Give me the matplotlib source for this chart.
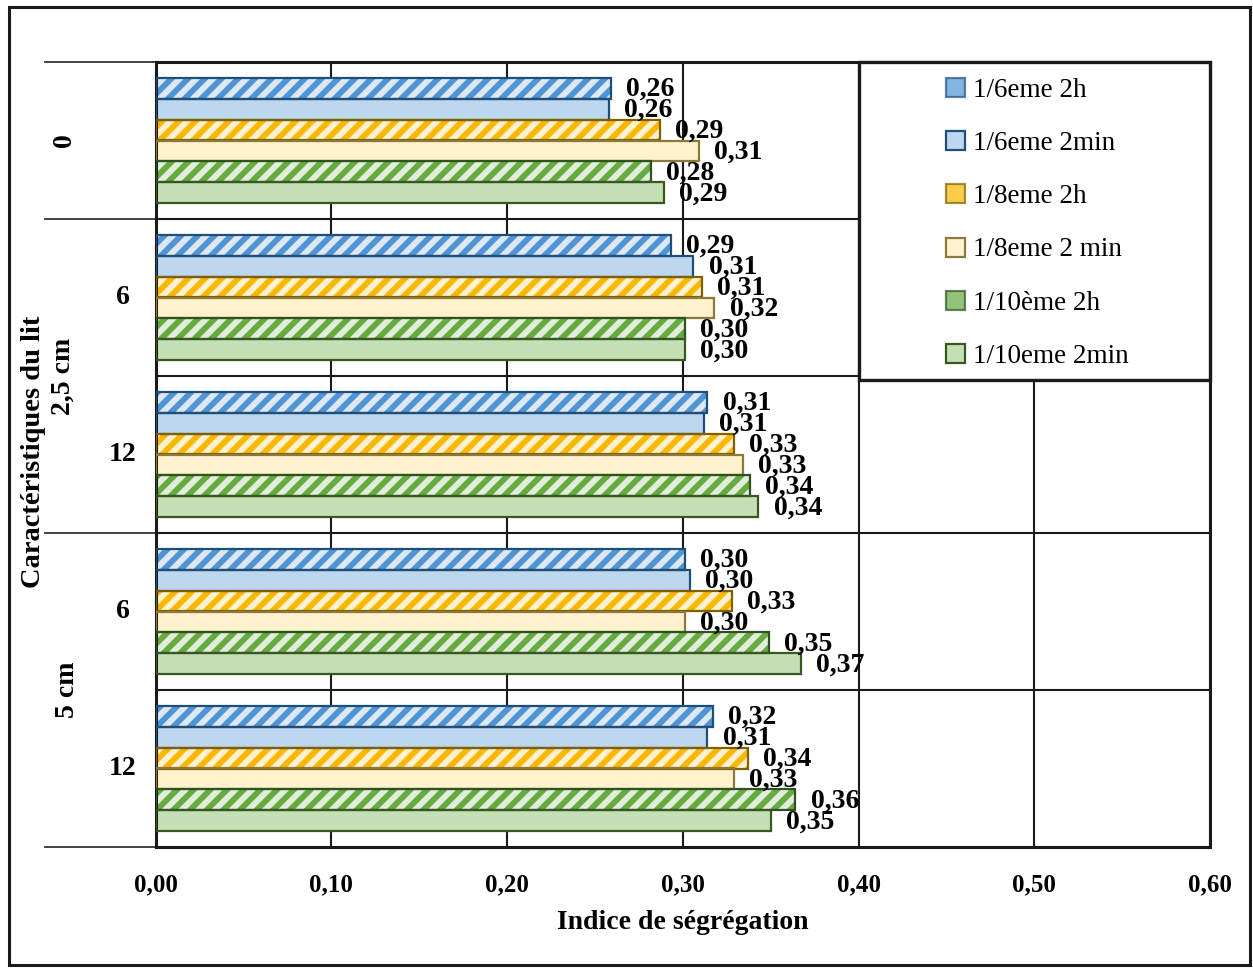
import matplotlib
matplotlib.use("Agg")
import matplotlib.pyplot as plt
from matplotlib.patches import Patch, Rectangle
from matplotlib.lines import Line2D
from matplotlib.transforms import blended_transform_factory

# inner category of each bar group, top to bottom
groups = ["0", "6", "12", "6", "12"]
# outer categories: (label, first group, last group)
outer_groups = [("2,5 cm", 1, 2), ("5 cm", 3, 4)]
series = ["1/6eme 2h", "1/6eme 2min", "1/8eme 2h", "1/8eme 2 min", "1/10ème 2h", "1/10eme 2min"]

v_6_2h = [0.259, 0.293, 0.314, 0.301, 0.317]
v_6_2min = [0.258, 0.306, 0.312, 0.304, 0.314]
v_8_2h = [0.287, 0.311, 0.329, 0.328, 0.337]
v_8_2min = [0.309, 0.318, 0.334, 0.301, 0.329]
v_10_2h = [0.282, 0.301, 0.338, 0.349, 0.364]
v_10_2min = [0.289, 0.301, 0.343, 0.367, 0.350]
values = [v_6_2h, v_6_2min, v_8_2h, v_8_2min, v_10_2h, v_10_2min]

x_ticks = [0.0, 0.1, 0.2, 0.3, 0.4, 0.5, 0.6]

# (background, hatch / light colour, outline, hatched?)
styles = [
    ("#dde8f3", "#4f94d4", "#1f4e79", True),
    ("#bdd7ee", "#bdd7ee", "#1f4e79", False),
    ("#fdf1d2", "#f9b800", "#7f6000", True),
    ("#fff2cc", "#fff2cc", "#8c7a3a", False),
    ("#e0eedb", "#66aa40", "#2f5320", True),
    ("#c5e0b4", "#c5e0b4", "#385723", False),
]

SERIF = "Liberation Serif"
plt.rcParams["font.family"] = [SERIF, "DejaVu Serif"]
plt.rcParams["hatch.linewidth"] = 4.2

W, H = 1253, 973
fig = plt.figure(figsize=(W / 100, H / 100), dpi=100)
ax = fig.add_axes([155.7 / W, 1 - 847 / H, (1210 - 155.7) / W, (847 - 62) / H])

n = len(series)
bar_h = 0.8 / n
for j, (vals, (bg, hc, edge, hatched)) in enumerate(zip(values, styles)):
    ys = [i - 0.4 + bar_h * (j + 0.5) for i in range(len(groups))]
    ax.barh(ys, vals, height=bar_h, color=bg, edgecolor=hc,
            hatch="//" if hatched else None, linewidth=0, zorder=2)
    ax.barh(ys, vals, height=bar_h, fill=False, edgecolor=edge, linewidth=1.6, zorder=3)
    for y, v in zip(ys, vals):
        ax.annotate(f"{v:.2f}".replace(".", ","), (v, y), xytext=(11, -1),
                    textcoords="offset points", ha="left", va="center",
                    fontsize=20, fontweight="bold", zorder=4)

ax.set_xlim(x_ticks[0], x_ticks[-1])
ax.set_ylim(len(groups) - 0.5, -0.5)
ax.set_xticks(x_ticks)
ax.set_xticklabels([f"{t:.2f}".replace(".", ",") for t in x_ticks],
                   fontsize=18, fontweight="bold")
ax.tick_params(axis="x", length=0, pad=19)
ax.set_yticks([])
ax.grid(axis="x", color="#1a1a1a", linewidth=1.5)
for i in range(len(groups) - 1):
    ax.axhline(i + 0.5, color="#1a1a1a", linewidth=1.5, zorder=1)
ax.set_axisbelow(True)
for sp in ax.spines.values():
    sp.set_linewidth(2.2)
    sp.set_color("#1a1a1a")

ax.set_xlabel("Indice de ségrégation", fontsize=20, fontweight="bold", labelpad=10)

# hierarchical category labels on the left
tr = blended_transform_factory(fig.transFigure, ax.transData)
ax.text(65 / W, 0, groups[0], transform=tr, rotation=90, ha="center", va="center",
        fontsize=20, fontweight="bold")
for i in range(1, len(groups)):
    ax.text(123 / W, i, groups[i], transform=tr, ha="center", va="center",
            fontsize=20, fontweight="bold")
for label, a, b in outer_groups:
    xpos = 63 / W if a == 1 else 68 / W
    ax.text(xpos, (a + b) / 2, label, transform=tr, rotation=90, ha="center", va="center",
            fontsize=20, fontweight="bold")
for yb in [-0.5, 0.5, 2.5, len(groups) - 0.5]:
    ax.add_line(Line2D([45 / W, 155.7 / W], [yb, yb], transform=tr, color="#333333",
                       linewidth=1.3, clip_on=False))
fig.text(34 / W, 1 - 452 / H, "Caractéristiques du lit", rotation=90, ha="center",
         va="center", fontsize=20.5, fontweight="bold")

# legend box in the top right corner of the plot
ax.add_patch(Rectangle((2 / 3, 1 - 318 / 785), 1 / 3, 318 / 785, transform=ax.transAxes,
                       facecolor="white", edgecolor="#1a1a1a", linewidth=2.4, zorder=5,
                       clip_on=False))
handles = []
for (bg, hc, edge, hatched) in styles:
    handles.append(Patch(facecolor=hc, edgecolor=edge, linewidth=1.6,
                         alpha=0.7 if hatched else 1.0))
leg = fig.legend(handles, series, loc="upper left", bbox_to_anchor=(946 / W, 1 - 78 / H),
                 frameon=False, fontsize=19.5, handlelength=0.7, handleheight=0.7,
                 handletextpad=0.3, labelspacing=1.04, borderaxespad=0, borderpad=0)
leg.set_zorder(6)

# outer frame of the picture
fig.add_artist(Rectangle((9 / W, 1 - 965 / H), 1241 / W, 958 / H, transform=fig.transFigure,
                         fill=False, edgecolor="#1a1a1a", linewidth=2.2))

fig.savefig("out.png", dpi=100)
